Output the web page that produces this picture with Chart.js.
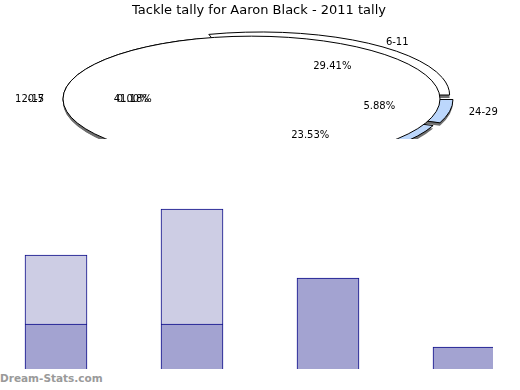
<!DOCTYPE html>
<html>
<head>
<meta charset="utf-8">
<script src="https://cdn.jsdelivr.net/npm/chart.js@4/dist/chart.umd.min.js"></script>
<style>
html,body{margin:0;padding:0;background:#fff;}
body{width:520px;height:390px;overflow:hidden;position:relative;}
#pieWrap{position:absolute;left:0;top:0;width:520px;height:139px;overflow:hidden;}
#pieWrap canvas{position:absolute;left:0;top:0;}
#barWrap{position:absolute;left:0;top:186px;width:493px;height:183px;overflow:hidden;}
#barWrap canvas{position:absolute;left:-12px;top:0;}
#credit{position:absolute;left:0;top:372px;font:bold 10.5px "DejaVu Sans";color:#9a9a9a;white-space:nowrap;}
</style>
</head>
<body>
<div id="pieWrap"><canvas id="pie" width="520" height="470"></canvas></div>
<div id="barWrap"><canvas id="bar" width="544" height="184"></canvas></div>
<div id="credit">Dream-Stats.com</div>
<script>
// ---- data ----
const chartTitle = 'Tackle tally for Aaron Black - 2011 tally';
const ageGroups = ['0-5', '6-11', '12-17', '18-23', '24-29'];
const tackleCounts = [0, 5, 7, 4, 1];
const barCategories = ['6-11', '12-17', '18-23', '24-29'];
const barLower = [2, 2, 4, 1];
const barUpper = [3, 5, null, null];

// ---- styles ----
const WHITE = '#ffffff', BLUE = '#bcd7fc';
const groupColors = { '0-5': WHITE, '6-11': WHITE, '12-17': WHITE, '18-23': BLUE, '24-29': BLUE };
const groupExplode = { '0-5': 0, '6-11': 60, '12-17': 0, '18-23': 52, '24-29': 32 };
const K = 1 / 3;          // vertical squash of the 3D pie
const PIE_CY = 99;        // page y of pie centre
const PIE_DX = -7.5;      // horizontal shift of the pie relative to the title centre
const DEPTH = 3;
const SIDE = '#6f6f6f';
const LABEL_FONT = '10px "DejaVu Sans"';

// drawing order: clockwise from the right (reverse of data order)
const order = ageGroups.map((_, i) => i).reverse();
const pieLabels = order.map(i => ageGroups[i]);
const pieValues = order.map(i => tackleCounts[i]);
const pieColors = pieLabels.map(l => groupColors[l]);
const pieOffsets = pieLabels.map(l => groupExplode[l]);
const total = tackleCounts.reduce((a, b) => a + b, 0);

function slicePath(ctx, cx, cy, rx, ry, a0, a1) {
  ctx.beginPath();
  ctx.moveTo(cx, cy);
  ctx.ellipse(cx, cy, rx, ry, 0, a0, a1);
  ctx.closePath();
}
// same geometry as Chart.js ArcElement.draw (offset shift + radius offset), squashed
function geom(el) {
  const mid = (el.startAngle + el.endAngle) / 2;
  const off = (el.options.offset || 0) / 4;
  const fix = 1 - Math.sin(Math.min(Math.PI, el.circumference || 0));
  return {
    mid,
    cx: el.x + PIE_DX + Math.cos(mid) * off,
    cy: PIE_CY + Math.sin(mid) * off * K,
    r: el.outerRadius + off * fix
  };
}

const pie3d = {
  id: 'pie3d',
  beforeDatasetsDraw(chart) {
    const ctx = chart.ctx;
    const meta = chart.getDatasetMeta(0);
    const el0 = meta.data[0];
    meta.data.forEach((el) => {
      if (el.circumference <= 0) return;
      const g = geom(el);
      ctx.save();
      slicePath(ctx, g.cx, g.cy + DEPTH, g.r, g.r * K, el.startAngle, el.endAngle);
      ctx.fillStyle = SIDE;
      ctx.fill();
      ctx.restore();
    });
    ctx.save();
    ctx.translate(PIE_DX, PIE_CY);
    ctx.scale(1, K);
    ctx.translate(0, -el0.y);
  },
  afterDatasetsDraw(chart) {
    const ctx = chart.ctx;
    ctx.restore();
    const meta = chart.getDatasetMeta(0);
    const data = chart.data.datasets[0].data;
    const labelsToDraw = [];
    meta.data.forEach((el, i) => {
      if (el.circumference <= 0) return;
      const g = geom(el);
      ctx.save();
      slicePath(ctx, g.cx, g.cy, g.r, g.r * K, el.startAngle, el.endAngle);
      ctx.lineWidth = 1;
      ctx.strokeStyle = '#000';
      ctx.stroke();
      ctx.restore();
      labelsToDraw.push({ i, mid: g.mid, cx: g.cx, cy: g.cy, r: g.r });
    });
    // a zero-value slice renders as a full ellipse over the pie (artefact of the original)
    meta.data.forEach((el, i) => {
      if (el.circumference > 0) return;
      const cx = el.x + PIE_DX, r = el.outerRadius;
      ctx.save();
      ctx.beginPath();
      ctx.rect(0, 0, cx, chart.height);
      ctx.clip();
      ctx.beginPath();
      ctx.ellipse(cx, PIE_CY + DEPTH, r, r * K, 0, 0, Math.PI * 2);
      ctx.fillStyle = SIDE;
      ctx.fill();
      ctx.restore();
      ctx.save();
      ctx.beginPath();
      ctx.ellipse(cx, PIE_CY, r, r * K, 0, 0, Math.PI * 2);
      ctx.fillStyle = el.options.backgroundColor;
      ctx.fill();
      ctx.lineWidth = 1;
      ctx.strokeStyle = '#000';
      ctx.stroke();
      ctx.restore();
      labelsToDraw.push({ i, mid: el.startAngle + Math.PI, cx, cy: PIE_CY, r });
    });
    ctx.save();
    ctx.font = LABEL_FONT;
    ctx.fillStyle = '#000';
    ctx.textBaseline = 'middle';
    labelsToDraw.forEach(({ i, mid, cx, cy, r }) => {
      const c = Math.cos(mid), s = Math.sin(mid);
      const pct = (data[i] / total * 100).toFixed(2) + '%';
      ctx.textAlign = 'center';
      ctx.fillText(pct, cx + 0.63 * r * c, cy + 0.57 * r * K * s);
      ctx.textAlign = c > 0.05 ? 'left' : (c < -0.05 ? 'right' : 'center');
      ctx.fillText(chart.data.labels[i], cx + 1.1 * r * c, cy + 1.05 * r * K * s);
    });
    ctx.restore();
  }
};

new Chart(document.getElementById('pie'), {
  type: 'pie',
  data: {
    labels: pieLabels,
    datasets: [{
      data: pieValues,
      backgroundColor: pieColors,
      offset: pieOffsets,
      borderWidth: 0,
      radius: 188.5,
      rotation: 90,
      clip: false
    }]
  },
  options: {
    responsive: false,
    animation: false,
    events: [],
    layout: { padding: { left: 0, right: 2, top: 0, bottom: 0 } },
    plugins: {
      legend: { display: false },
      tooltip: { enabled: false },
      title: {
        display: true,
        text: chartTitle,
        color: '#000',
        font: { family: 'DejaVu Sans', size: 13, weight: 'normal' },
        padding: { top: 3, bottom: 4 }
      }
    }
  },
  plugins: [pie3d]
});

new Chart(document.getElementById('bar'), {
  type: 'bar',
  data: {
    labels: barCategories,
    datasets: [
      { data: barLower, backgroundColor: '#a3a3d1', borderColor: '#0c0c8a', borderWidth: 1, barThickness: 62 },
      { data: barUpper, backgroundColor: '#cdcde4', borderColor: '#0c0c8a', borderWidth: 1, barThickness: 62 }
    ]
  },
  options: {
    responsive: false,
    animation: false,
    events: [],
    layout: { padding: 0 },
    plugins: { legend: { display: false }, tooltip: { enabled: false } },
    scales: {
      x: { display: false, stacked: true },
      y: { display: false, stacked: true, min: 0, max: 8 }
    }
  }
});
</script>
</body>
</html>
